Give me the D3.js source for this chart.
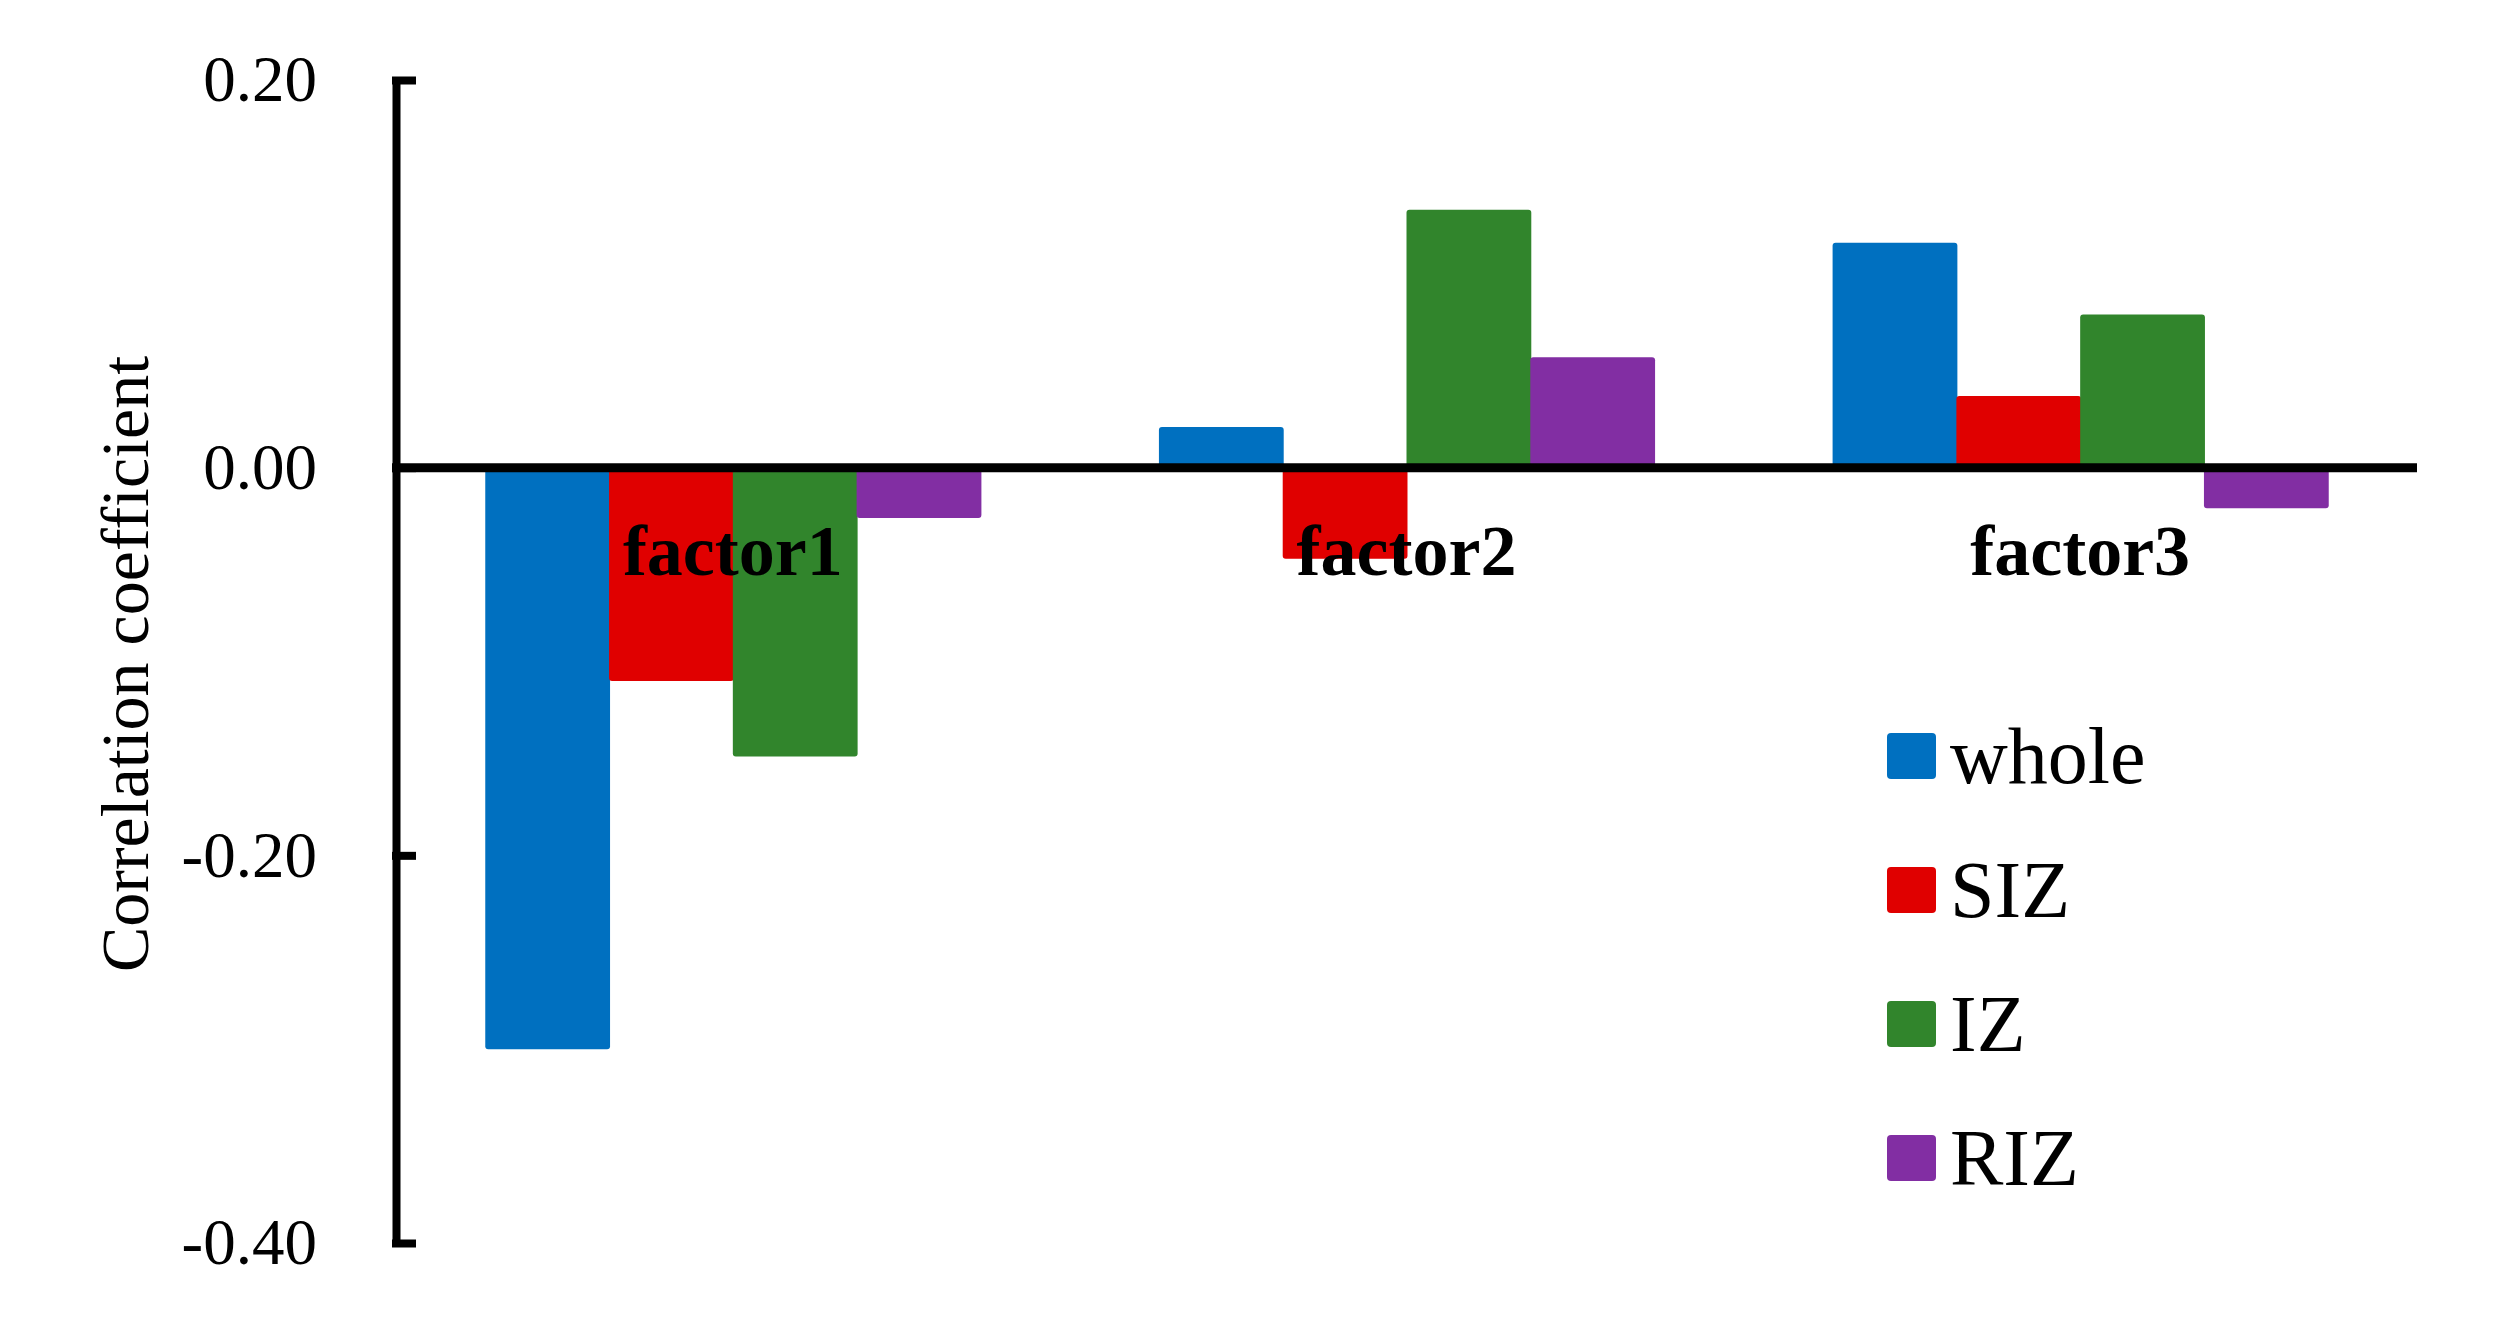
<!DOCTYPE html>
<html>
<head>
<meta charset="utf-8">
<script src="https://cdn.jsdelivr.net/npm/d3@7"></script>
<style>
  html, body { margin: 0; padding: 0; background: #ffffff; }
  svg { display: block; }
  text { font-family: "Liberation Serif", "Times New Roman", serif; fill: #000; }
</style>
</head>
<body>
<svg id="chart" width="2505" height="1323"></svg>
<script>
const categories = ["factor1", "factor2", "factor3"];
const seriesNames = ["whole", "SIZ", "IZ", "RIZ"];
const wholeValues = [-0.300, 0.021, 0.116];
const sizValues = [-0.110, -0.047, 0.037];
const izValues = [-0.149, 0.133, 0.079];
const rizValues = [-0.026, 0.057, -0.021];
const seriesColors = ["#0070C0", "#E00000", "#31852C", "#822EA3"];
const yTickValues = [0.2, 0.0, -0.2, -0.4];
const yTitle = "Correlation coefficient";

const seriesValues = [wholeValues, sizValues, izValues, rizValues];

const svg = d3.select("#chart");
const W = 2505, H = 1323;
svg.append("rect").attr("width", W).attr("height", H).attr("fill", "#fff");

const axisX = 396;
const rightX = 2417;
const topY = 80, bottomY = 1243;

const y = d3.scaleLinear().domain([0.2, -0.4]).range([topY, bottomY]);
const x0 = d3.scaleBand().domain(categories).range([axisX, rightX])
  .paddingInner(0.265).paddingOuter(0.1325);
const x1 = d3.scaleBand().domain(seriesNames).range([0, x0.bandwidth()]).padding(0);
const color = d3.scaleOrdinal().domain(seriesNames).range(seriesColors);

// bars
const groups = svg.append("g").selectAll("g")
  .data(categories)
  .join("g")
  .attr("transform", d => `translate(${x0(d)},0)`);

groups.selectAll("rect")
  .data((d, i) => seriesNames.map((s, j) => ({ s, v: seriesValues[j][i] })))
  .join("rect")
  .attr("x", d => x1(d.s))
  .attr("width", x1.bandwidth() + 1)
  .attr("y", d => Math.min(y(0), y(d.v)))
  .attr("height", d => Math.abs(y(d.v) - y(0)))
  .attr("rx", 3)
  .attr("fill", d => color(d.s));

// y axis
const yAxis = d3.axisLeft(y)
  .tickValues(yTickValues)
  .tickSizeInner(-20)
  .tickSizeOuter(0)
  .tickPadding(79)
  .tickFormat(d => d.toFixed(2));

const gy = svg.append("g")
  .attr("transform", `translate(${axisX},0)`)
  .call(yAxis);
gy.select(".domain").attr("stroke", "#000").attr("stroke-width", 8);
gy.selectAll(".tick line").attr("stroke", "#000").attr("stroke-width", 8)
  .attr("x1", -4);
gy.selectAll(".tick text")
  .style("font-family", "'Liberation Serif', 'Times New Roman', serif")
  .style("font-size", "65px")
  .attr("fill", "#000");

// zero line
svg.append("line")
  .attr("x1", axisX - 4).attr("x2", rightX)
  .attr("y1", y(0)).attr("y2", y(0))
  .attr("stroke", "#000").attr("stroke-width", 9);

// category labels
svg.append("g").selectAll("text")
  .data(categories)
  .join("text")
  .attr("x", d => x0(d) + x0.bandwidth() / 2)
  .attr("y", y(0) + 107)
  .attr("text-anchor", "middle")
  .style("font-size", "72px")
  .style("font-weight", "bold")
  .text(d => d);

// y title
svg.append("text")
  .attr("transform", `translate(148,664) rotate(-90)`)
  .attr("text-anchor", "middle")
  .style("font-size", "68px")
  .text(yTitle);

// legend
const legend = svg.append("g").selectAll("g")
  .data(seriesNames)
  .join("g")
  .attr("transform", (d, i) => `translate(1887,${756 + i * 134})`);
legend.append("rect")
  .attr("x", 0).attr("y", -23)
  .attr("width", 49).attr("height", 46)
  .attr("rx", 4)
  .attr("fill", d => color(d));
legend.append("text")
  .attr("x", 63).attr("y", 27)
  .style("font-size", "80px")
  .text(d => d);
</script>
</body>
</html>
